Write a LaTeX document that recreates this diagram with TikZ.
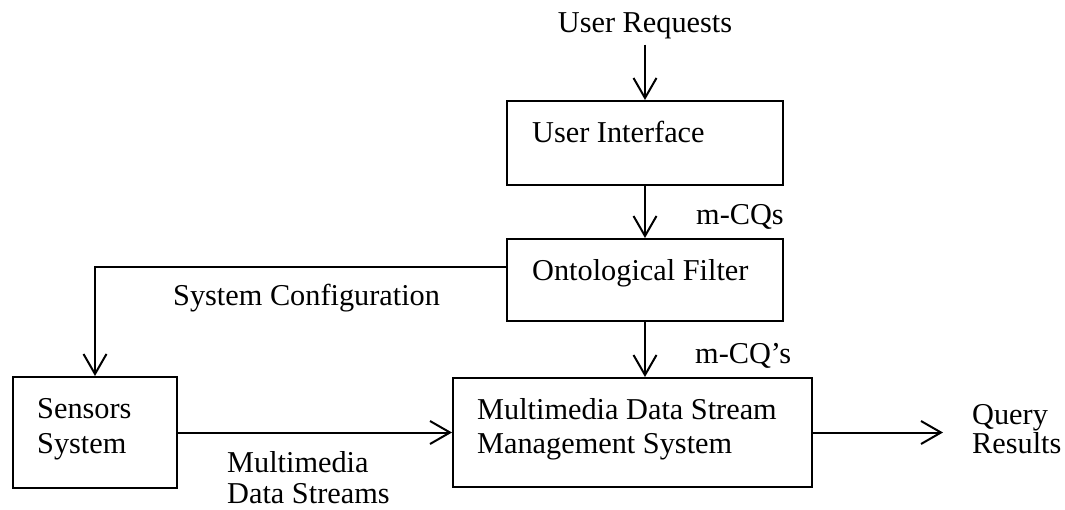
\documentclass[tikz,border=0pt]{standalone}
\usepackage{fontspec}
\setmainfont{Liberation Serif}
\usetikzlibrary{arrows.meta}

\tikzset{
  box/.style={draw, line width=2pt, rectangle, inner sep=0pt},
  txt/.style={inner sep=0pt, anchor=base west, align=left,
              font=\fontsize{30.3}{35}\selectfont},
  lbl/.style={inner sep=0pt, anchor=base west, align=left,
              font=\fontsize{30.3}{31}\selectfont},
  arr/.style={line width=2pt, -{Straight Barb[length=20pt,width=23pt,line width=2pt]}}
}

\begin{document}
\begin{tikzpicture}[x=1pt,y=-1pt]
  \useasboundingbox (0,0) rectangle (1065,509);

  % boxes
  \node[box, minimum width=276pt, minimum height=84pt]  (ui)      at (645,143)   {};
  \node[box, minimum width=276pt, minimum height=82pt]  (of)      at (645,280)   {};
  \node[box, minimum width=164pt, minimum height=111pt] (sensors) at (95,432.5)  {};
  \node[box, minimum width=359pt, minimum height=109pt] (mdsms)   at (632.5,432.5) {};

  % texts inside boxes (multi-line nodes sit on their last baseline)
  \node[txt] (uitxt) at (532,142) {User Interface};
  \node[txt] (oftxt) at (532,280) {Ontological Filter};
  \node[txt] (sentxt) at (37,453) {Sensors\\System};
  \node[txt, font=\fontsize{30.3}{34}\selectfont] (mdtxt) at (477,453) {Multimedia Data Stream\\Management System};

  % free labels
  \node[inner sep=0pt, anchor=base, font=\fontsize{30.3}{34}\selectfont] (ur) at (645,32) {User Requests};
  \node[lbl] (mcq1) at (696,224) {m-CQs};
  \node[lbl] (mcq2) at (695,363) {m-CQ’s};
  \node[lbl] (sysconf) at (173,305) {System Configuration};
  \node[lbl] (mds) at (227,503) {Multimedia\\Data Streams};
  \node[lbl, font=\fontsize{30.3}{29}\selectfont] (qr) at (972,453) {Query\\Results};

  % connectors
  \draw[arr] ([yshift=-6pt]ur.south) -- (ui.north);
  \draw[arr] (ui.south) -- (of.north);
  \draw[arr] (of.south) -- (of.south |- mdsms.north);
  \draw[arr] ([yshift=13pt]of.west) -| (sensors.north);
  \draw[arr] (sensors.east) -- (mdsms.west);
  \draw[arr] (mdsms.east) -- ([xshift=-29pt]qr.west |- mdsms.east);
\end{tikzpicture}
\end{document}
